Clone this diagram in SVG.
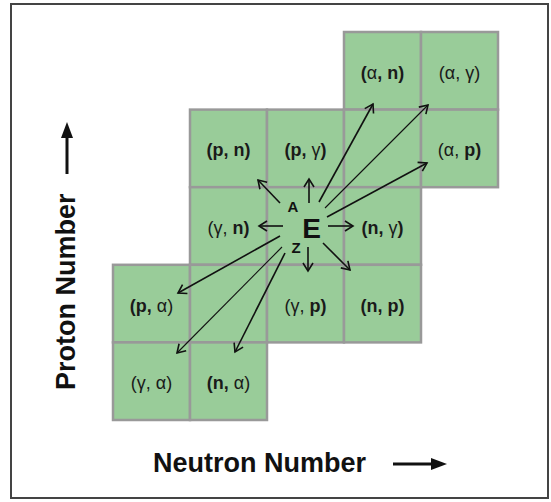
<svg xmlns="http://www.w3.org/2000/svg" width="551" height="502" viewBox="0 0 551 502">
<style>
.cell{fill:#99cc99;stroke:#999999;stroke-width:2.5}
.lbl{font-family:"Liberation Sans",Arial,sans-serif;font-size:18px;fill:#1a1a1a;text-anchor:middle}
.b{font-weight:bold}
.g{font-weight:normal}
.ax{font-family:"Liberation Sans",Arial,sans-serif;font-size:27px;font-weight:bold;fill:#111}
.arr{stroke:#111;stroke-width:1.6;fill:none;marker-end:url(#ah)}
.thin{stroke-width:1.1}
.center{font-family:"Liberation Sans",Arial,sans-serif;font-weight:bold;fill:#111;text-anchor:middle}
</style>
<defs>
<marker id="ah" markerUnits="userSpaceOnUse" markerWidth="12" markerHeight="12" refX="9" refY="5" orient="auto" overflow="visible">
<path d="M1,0 L9,5 L1,10" fill="none" stroke="#111" stroke-width="1.6"/>
</marker>
</defs>
<rect x="11" y="4" width="537" height="494" fill="#ffffff" stroke="#444" stroke-width="2"/>

<g id="cell-an"><rect class="cell" x="344" y="32" width="77" height="77.6"/><text class="lbl" x="382.5" y="79"><tspan class="b">(</tspan><tspan class="g">α</tspan><tspan class="b">, n)</tspan></text></g>
<g id="cell-ag"><rect class="cell" x="421" y="32" width="77" height="77.6"/><text class="lbl" x="459.5" y="79">(α, γ)</text></g>
<g id="cell-pn"><rect class="cell" x="190" y="109.6" width="77" height="77.6"/><text class="lbl b" x="228.5" y="156.4">(p, n)</text></g>
<g id="cell-pg"><rect class="cell" x="267" y="109.6" width="77" height="77.6"/><text class="lbl" x="305.5" y="156.4"><tspan class="b">(p, </tspan><tspan class="g">γ</tspan><tspan class="b">)</tspan></text></g>
<g id="cell-empty1"><rect class="cell" x="344" y="109.6" width="77" height="77.6"/></g>
<g id="cell-ap"><rect class="cell" x="421" y="109.6" width="77" height="77.6"/><text class="lbl" x="459.5" y="156.4"><tspan class="g">(α, </tspan><tspan class="b">p)</tspan></text></g>
<g id="cell-gn"><rect class="cell" x="190" y="187.2" width="77" height="77.6"/><text class="lbl" x="228.5" y="234"><tspan class="g">(γ, </tspan><tspan class="b">n)</tspan></text></g>
<g id="cell-E"><rect class="cell" x="267" y="187.2" width="77" height="77.6"/></g>
<g id="cell-ng"><rect class="cell" x="344" y="187.2" width="77" height="77.6"/><text class="lbl" x="382.5" y="234"><tspan class="b">(n, </tspan><tspan class="g">γ</tspan><tspan class="b">)</tspan></text></g>
<g id="cell-pa"><rect class="cell" x="113" y="264.8" width="77" height="77.6"/><text class="lbl" x="151.5" y="311.6"><tspan class="b">(p, </tspan><tspan class="g">α)</tspan></text></g>
<g id="cell-empty2"><rect class="cell" x="190" y="264.8" width="77" height="77.6"/></g>
<g id="cell-gp"><rect class="cell" x="267" y="264.8" width="77" height="77.6"/><text class="lbl" x="305.5" y="311.6"><tspan class="g">(γ, </tspan><tspan class="b">p)</tspan></text></g>
<g id="cell-np"><rect class="cell" x="344" y="264.8" width="77" height="77.6"/><text class="lbl b" x="382.5" y="311.6">(n, p)</text></g>
<g id="cell-ga"><rect class="cell" x="113" y="342.4" width="77" height="77.6"/><text class="lbl" x="151.5" y="389.2">(γ, α)</text></g>
<g id="cell-na"><rect class="cell" x="190" y="342.4" width="77" height="77.6"/><text class="lbl" x="228.5" y="389.2"><tspan class="b">(n, </tspan><tspan class="g">α)</tspan></text></g>

<g id="nucleus">
<text class="center" x="311.5" y="238" font-size="28">E</text>
<text class="center" x="293" y="212" font-size="15">A</text>
<text class="center" x="296" y="253" font-size="15">Z</text>
</g>

<g id="connectors">
<line class="arr" x1="280" y1="203" x2="258" y2="180"/>
<line class="arr" x1="309" y1="203" x2="309" y2="179"/>
<line class="arr" x1="283" y1="226" x2="259" y2="226"/>
<line class="arr" x1="328" y1="226" x2="353" y2="226"/>
<line class="arr" x1="308" y1="247" x2="308" y2="271"/>
<line class="arr" x1="323" y1="243" x2="350" y2="270"/>
<line class="arr" x1="319" y1="202" x2="373" y2="104"/>
<line class="arr thin" x1="325" y1="208" x2="428" y2="105"/>
<line class="arr" x1="327" y1="217" x2="427" y2="163"/>
<line class="arr" x1="280" y1="236" x2="178" y2="293"/>
<line class="arr thin" x1="282" y1="247" x2="177" y2="353"/>
<line class="arr" x1="285" y1="253" x2="235" y2="352"/>
</g>

<g id="axes">
<text class="ax" transform="translate(75,390) rotate(-90)">Proton Number</text>
<line x1="67" y1="174" x2="67" y2="135" stroke="#111" stroke-width="3"/>
<polygon points="67,122 61,138 73,138" fill="#111"/>
<text class="ax" x="153" y="472">Neutron Number</text>
<line x1="393" y1="464" x2="433" y2="464" stroke="#111" stroke-width="3"/>
<polygon points="447,464 431,458 431,470" fill="#111"/>
</g>
</svg>
